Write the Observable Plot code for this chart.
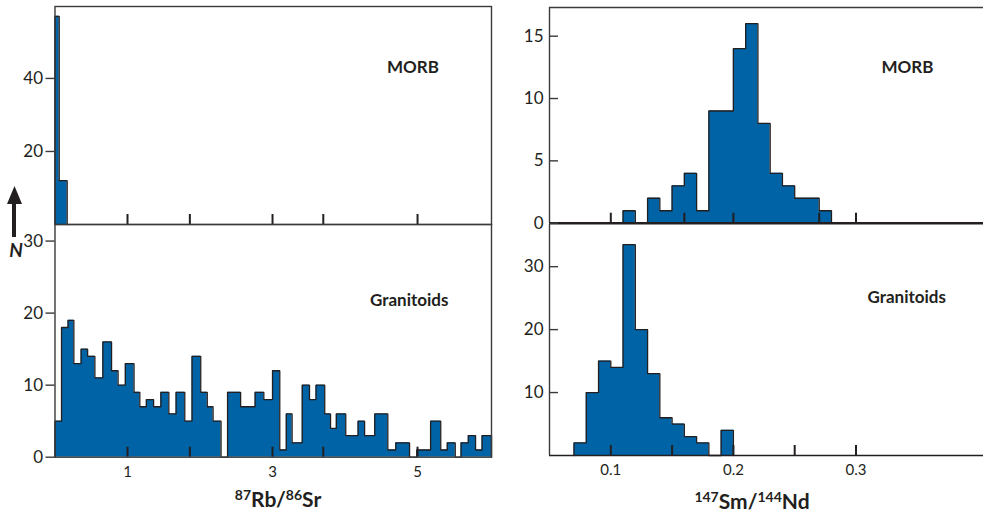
<!DOCTYPE html>
<html><head><meta charset="utf-8">
<script src="https://cdn.jsdelivr.net/npm/d3@7"></script>
<script src="https://cdn.jsdelivr.net/npm/@observablehq/plot@0.6"></script>
<style>
body{margin:0;background:#fff;}
#fig{position:relative;width:983px;height:513px;overflow:hidden;font-family:Lato,"Noto Sans",sans-serif;color:#231f20;}
#fig svg{position:absolute;left:0;top:0;}
.xtitle{position:absolute;font-weight:bold;font-size:21px;white-space:nowrap;text-align:center;width:240px;line-height:1;}
.xtitle sup{font-size:14px;vertical-align:0;position:relative;top:-7px;}
</style></head><body><div id="fig"></div>
<script>
const W = 983, H = 513;
const BLUE = "#0063a6", INK = "#231f20";

// ---- Data: 87Rb/86Sr histograms (bin edges and counts) ----
const rbMorbEdges = [0, 0.058, 0.168];
const rbMorbCounts = [57, 12];
const rbGranEdges = [0, 0.09, 0.18, 0.26, 0.36, 0.45, 0.55, 0.66, 0.78, 0.87, 0.97, 1.09, 1.17, 1.26, 1.36, 1.46, 1.57, 1.67, 1.79, 1.89, 2.01, 2.10, 2.18, 2.29, 2.38, 2.56, 2.76, 2.88, 3.00, 3.10, 3.19, 3.27, 3.41, 3.51, 3.60, 3.72, 3.80, 3.88, 4.01, 4.18, 4.27, 4.41, 4.59, 4.70, 4.89, 4.99, 5.18, 5.32, 5.41, 5.52, 5.60, 5.70, 5.80, 5.89, 6.02];
const rbGranCounts = [5, 18, 19, 13, 15, 14, 11, 16, 12, 10, 13, 9, 7, 8, 7, 9, 6, 9, 5, 14, 9, 7, 5, 0, 9, 7, 9, 8, 12, 1, 6, 2, 10, 8, 10, 6, 4, 6, 3, 5, 3, 6, 1, 2, 0, 1, 5, 1, 2, 0, 2, 3, 1, 3];

// ---- Data: 147Sm/144Nd histograms ----
const smMorbEdges = [0.11, 0.12, 0.13, 0.14, 0.15, 0.16, 0.17, 0.18, 0.19, 0.20, 0.21, 0.22, 0.23, 0.24, 0.25, 0.26, 0.27, 0.28];
const smMorbCounts = [1, 0, 2, 1, 3, 4, 1, 9, 9, 14, 16, 8, 4, 3, 2, 2, 1];
const smGranEdges = [0.07, 0.08, 0.09, 0.10, 0.11, 0.12, 0.13, 0.14, 0.15, 0.16, 0.17, 0.18, 0.19, 0.20];
const smGranCounts = [2, 10, 15, 14, 33.5, 20, 13, 6, 5, 3, 2, 0, 4];

// ---- Ticks and labels ----
const rbTicks = [1, 1.86, 3, 3.7, 5];
const rbTickLabels = [1, 3, 5];
const smMorbTicks = [0.1, 0.16, 0.2, 0.27, 0.3];
const smGranTicks = [0.1, 0.15, 0.2, 0.25, 0.3];
const smTickLabels = [0.1, 0.2, 0.3];
const rbMorbYTicks = [20, 40];
const rbGranYTicks = [0, 10, 20, 30];
const smMorbYTicks = [0, 5, 10, 15];
const smGranYTicks = [10, 20, 30];
const rbDomain = [0, 6.02], smDomain = [0.05, 0.404];

function panel(o) {
  const {edges, counts, xDomain, yDomain, box: [l, t, r, b], xTicks, xLabels, yTicks, label, ldx, ldy, side} = o;
  const bins = counts.map((n, i) => ({x1: edges[i], x2: edges[i + 1], n}));
  const outline = [{x: edges[0], y: 0}];
  bins.forEach(d => { outline.push({x: d.x1, y: d.n}); outline.push({x: d.x2, y: d.n}); });
  outline.push({x: edges[edges.length - 1], y: 0});
  const marks = [
    Plot.areaY(outline, {x: "x", y1: 0, y2: "y", fill: BLUE}),
    Plot.line(outline, {x: "x", y: "y", stroke: INK, strokeWidth: 1.3, strokeLinejoin: "miter"}),
    Plot.axisX(xTicks, {anchor: "bottom", tickSize: -10, tickFormat: () => "", stroke: INK, strokeWidth: 2, label: null})
  ];
  if (xLabels) marks.push(Plot.axisX(xLabels, {anchor: "bottom", tickSize: 0, tickPadding: 9, fontSize: 15, fill: INK, label: null, tickFormat: d => String(d)}));
  if (side === "left") {
    marks.push(Plot.frame({stroke: "#3a3a3a", strokeWidth: 1.4}));
    marks.push(Plot.axisY(yTicks, {anchor: "left", tickSize: 9, tickPadding: 3, fontSize: 17, fill: INK, stroke: "#3a3a3a", strokeWidth: 1.4, label: null}));
  } else {
    marks.push(Plot.ruleX([xDomain[0]], {stroke: "#3a3a3a", strokeWidth: 1.4}));
    if (o.top) marks.push(Plot.ruleY([yDomain[1]], {stroke: "#3a3a3a", strokeWidth: 1.4}));
    marks.push(Plot.ruleY([0], {stroke: INK, strokeWidth: o.thick ? 2.4 : 1.6}));
    marks.push(Plot.axisY(yTicks, {anchor: "left", tickSize: -9, tickFormat: () => "", stroke: "#3a3a3a", strokeWidth: 1.4, label: null}));
    marks.push(Plot.axisY(yTicks, {anchor: "left", tickSize: 0, tickPadding: 6, fontSize: 17, fill: INK, label: null}));
  }
  marks.push(Plot.text([label], {frameAnchor: "top-left", textAnchor: "start", lineAnchor: "top", dx: ldx, dy: ldy, fontWeight: "bold", fontSize: 17, fill: INK}));
  return Plot.plot({
    width: W, height: H,
    marginLeft: l, marginRight: W - r, marginTop: t, marginBottom: H - b,
    x: {domain: xDomain, label: null},
    y: {domain: yDomain, label: null},
    style: {background: "transparent", fontFamily: "Lato, 'Noto Sans', sans-serif", color: INK, overflow: "visible"},
    marks
  });
}

const fig = document.getElementById("fig");
fig.append(panel({edges: rbMorbEdges, counts: rbMorbCounts, xDomain: rbDomain, yDomain: [0, 59.7], box: [54.5, 6, 491, 224], xTicks: rbTicks, yTicks: rbMorbYTicks, label: "MORB", ldx: 332, ldy: 54, side: "left"}));
fig.append(panel({edges: rbGranEdges, counts: rbGranCounts, xDomain: rbDomain, yDomain: [0, 32.3], box: [54.5, 224, 491, 456.7], xTicks: rbTicks, xLabels: rbTickLabels, yTicks: rbGranYTicks, label: "Granitoids", ldx: 315, ldy: 69, side: "left"}));
fig.append(panel({edges: smMorbEdges, counts: smMorbCounts, xDomain: smDomain, yDomain: [0, 17.3], box: [549, 7, 983, 222.7], xTicks: smMorbTicks, yTicks: smMorbYTicks, label: "MORB", ldx: 332, ldy: 53, side: "right", top: true, thick: true}));
fig.append(panel({edges: smGranEdges, counts: smGranCounts, xDomain: smDomain, yDomain: [0, 36.7], box: [549, 224, 983, 455], xTicks: smGranTicks, xLabels: smTickLabels, yTicks: smGranYTicks, label: "Granitoids", ldx: 318, ldy: 66, side: "right"}));

// axis titles
const t1 = document.createElement("div");
t1.className = "xtitle"; t1.style.left = (278 - 120) + "px"; t1.style.top = "488px";
t1.innerHTML = "<sup>87</sup>Rb/<sup>86</sup>Sr";
const t2 = document.createElement("div");
t2.className = "xtitle"; t2.style.left = (752 - 120) + "px"; t2.style.top = "490px";
t2.innerHTML = "<sup>147</sup>Sm/<sup>144</sup>Nd";
fig.append(t1, t2);

// N arrow
const ns = "http://www.w3.org/2000/svg";
const a = document.createElementNS(ns, "svg");
a.setAttribute("width", 40); a.setAttribute("height", 100);
a.style.left = "0px"; a.style.top = "180px";
a.innerHTML = `<line x1="14" y1="57" x2="14" y2="20" stroke="${INK}" stroke-width="4"/>
<polygon points="7,24 22,24 14.5,6" fill="${INK}"/>
<text x="16" y="77" text-anchor="middle" font-family="Lato, 'Noto Sans', sans-serif" font-size="19" font-weight="bold" font-style="italic" fill="${INK}">N</text>`;
fig.append(a);
</script></body></html>
